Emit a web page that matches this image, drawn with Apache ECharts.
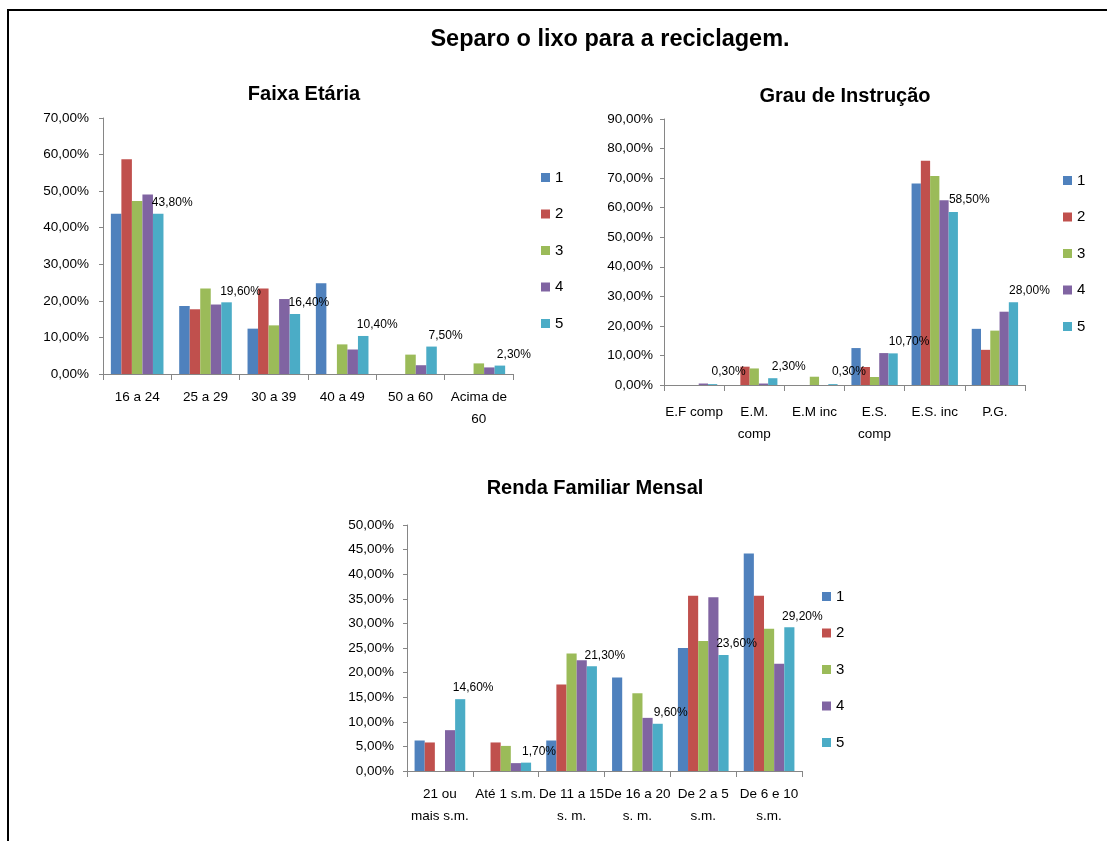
<!DOCTYPE html>
<html>
<head>
<meta charset="utf-8">
<script src="https://cdn.jsdelivr.net/npm/echarts@6/dist/echarts.min.js"></script>
<style>
  html, body { margin: 0; padding: 0; background: #fff; }
  #chart { width: 1107px; height: 841px; }
</style>
</head>
<body>
<div id="chart"></div>
<script>
// Series names (answer scale 1..5)
const seriesNames = ['1', '2', '3', '4', '5'];
const seriesColors = ['#4F81BD', '#C0504D', '#9BBB59', '#8064A2', '#4BACC6'];

// Faixa Etária
const ageCategories = ['16 a 24', '25 a 29', '30 a 39', '40 a 49', '50 a 60', 'Acima de\n60'];
const age1 = [43.8, 18.6, 12.4, 24.8, 0, 0];
const age2 = [58.7, 17.7, 23.4, 0, 0, 0];
const age3 = [47.3, 23.4, 13.3, 8.1, 5.3, 2.9];
const age4 = [49.1, 19.0, 20.5, 6.7, 2.4, 1.8];
const age5 = [43.8, 19.6, 16.4, 10.4, 7.5, 2.3];

// Grau de Instrução
const eduCategories = ['E.F comp', 'E.M.\ncomp', 'E.M inc', 'E.S.\ncomp', 'E.S. inc', 'P.G.'];
const edu1 = [0, 0, 0, 12.5, 68.2, 19.0];
const edu2 = [0, 6.2, 0, 6.1, 75.9, 11.9];
const edu3 = [0, 5.6, 2.8, 2.7, 70.7, 18.4];
const edu4 = [0.5, 0.5, 0, 10.8, 62.5, 24.8];
const edu5 = [0.3, 2.3, 0.3, 10.7, 58.5, 28.0];

// Renda Familiar Mensal
const incomeCategories = ['21 ou\nmais s.m.', 'Até 1 s.m.', 'De 11 a 15\ns. m.', 'De 16 a 20\ns. m.', 'De 2 a 5\ns.m.', 'De 6 e 10\ns.m.'];
const income1 = [6.2, 0, 6.2, 19.0, 25.0, 44.2];
const income2 = [5.8, 5.8, 17.6, 0, 35.6, 35.6];
const income3 = [0, 5.1, 23.9, 15.8, 26.4, 28.9];
const income4 = [8.3, 1.6, 22.5, 10.8, 35.3, 21.8];
const income5 = [14.6, 1.7, 21.3, 9.6, 23.6, 29.2];

// Axis ranges
const ageAxis = { max: 70, interval: 10 };
const eduAxis = { max: 90, interval: 10 };
const incomeAxis = { max: 50, interval: 5 };

const FONT = "'Liberation Sans Narrow', 'Arial Narrow', 'Liberation Sans', sans-serif";
const pct = v => Number(v).toFixed(2).replace('.', ',') + '%';

const panels = [
  { cats: ageCategories, data: [age1, age2, age3, age4, age5], axis: ageAxis, labelOffset: [14, 0], yMargin: 14 },
  { cats: eduCategories, data: [edu1, edu2, edu3, edu4, edu5], axis: eduAxis, labelOffset: [16, -1], yMargin: 11 },
  { cats: incomeCategories, data: [income1, income2, income3, income4, income5], axis: incomeAxis, labelOffset: [13, 0], yMargin: 13 }
];

const grids = [
  { left: 103, top: 118, width: 410, height: 256 },
  { left: 664, top: 119, width: 361, height: 266 },
  { left: 407, top: 525, width: 395, height: 246 }
];

const axisLineStyle = { color: '#868686', width: 1 };

const xAxes = panels.map((p, i) => ({
  type: 'category',
  gridIndex: i,
  data: p.cats,
  axisLine: { lineStyle: axisLineStyle },
  axisTick: { show: true, length: 6, lineStyle: axisLineStyle },
  axisLabel: {
    interval: 0, color: '#000', fontFamily: FONT, fontSize: 13.5,
    lineHeight: 22, margin: i === 1 ? 16 : 12
  }
}));

const yAxes = panels.map((p, i) => ({
  type: 'value',
  gridIndex: i,
  min: 0,
  max: p.axis.max,
  interval: p.axis.interval,
  splitLine: { show: false },
  axisLine: { show: true, lineStyle: axisLineStyle },
  axisTick: { show: true, length: 4, lineStyle: axisLineStyle },
  axisLabel: { color: '#000', fontFamily: FONT, fontSize: 13.5, margin: p.yMargin, formatter: pct }
}));

const series = [];
panels.forEach((p, i) => {
  p.data.forEach((vals, s) => {
    series.push({
      name: seriesNames[s],
      type: 'bar',
      xAxisIndex: i,
      yAxisIndex: i,
      data: vals,
      barGap: '0%',
      barCategoryGap: '23%',
      itemStyle: { color: seriesColors[s] },
      label: s === 4 ? {
        show: true, position: 'top', offset: p.labelOffset,
        color: '#000', fontFamily: FONT, fontSize: 12, formatter: d => pct(d.value)
      } : { show: false },
      emphasis: { disabled: true }
    });
  });
});

const legendBase = {
  orient: 'vertical',
  data: seriesNames,
  itemWidth: 9,
  itemHeight: 9,
  itemGap: 21.5,
  icon: 'rect',
  textStyle: { color: '#000', fontFamily: FONT, fontSize: 15 },
  selectedMode: false
};

const option = {
  backgroundColor: '#fff',
  animation: false,
  title: [
    { text: 'Separo o lixo para a reciclagem.', left: 605, top: 23, textAlign: 'center',
      textStyle: { fontFamily: FONT, fontWeight: 'bold', fontSize: 23.5, color: '#000' } },
    { text: 'Faixa Etária', left: 299, top: 79, textAlign: 'center',
      textStyle: { fontFamily: FONT, fontWeight: 'bold', fontSize: 20, color: '#000' } },
    { text: 'Grau de Instrução', left: 840, top: 81, textAlign: 'center',
      textStyle: { fontFamily: FONT, fontWeight: 'bold', fontSize: 20, color: '#000' } },
    { text: 'Renda Familiar Mensal', left: 590, top: 473, textAlign: 'center',
      textStyle: { fontFamily: FONT, fontWeight: 'bold', fontSize: 20, color: '#000' } }
  ],
  legend: [
    Object.assign({}, legendBase, { left: 536, top: 165 }),
    Object.assign({}, legendBase, { left: 1058, top: 168 }),
    Object.assign({}, legendBase, { left: 817, top: 584 })
  ],
  grid: grids,
  xAxis: xAxes,
  yAxis: yAxes,
  series: series,
  graphic: [
    { type: 'rect', shape: { x: 8, y: 10, width: 1120, height: 860 },
      style: { fill: 'none', stroke: '#000', lineWidth: 2 }, silent: true }
  ]
};

const chart = echarts.init(document.getElementById('chart'), null, { renderer: 'canvas' });
chart.setOption(option);
</script>
</body>
</html>
